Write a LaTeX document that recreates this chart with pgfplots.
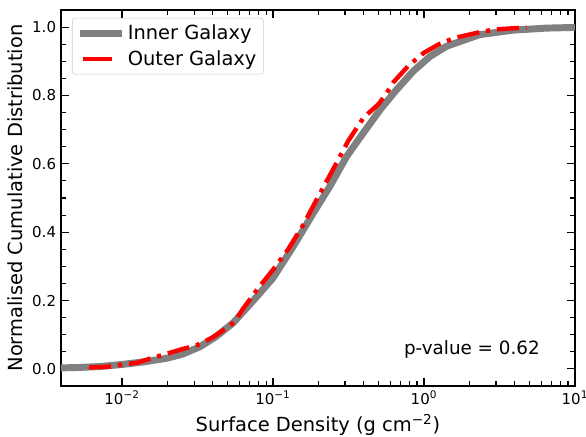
\documentclass[border=0pt]{standalone}
\usepackage{pgfplots}
\pgfplotsset{compat=1.18}
\usepackage{fontspec}
\setmainfont{DejaVu Sans}
\pgfplotsset{redleg/.style={legend image code/.code={\draw[##1, solid] (2pt,0pt) -- (23pt,0pt);}}}
\begin{document}
\begin{tikzpicture}
\useasboundingbox (-43.9pt,-36pt) rectangle (378pt,277.9pt);
\begin{axis}[
  scale only axis,
  width=370pt, height=270.7pt,
  xmode=log,
  xmin=0.00394, xmax=10,
  ymin=-0.05, ymax=1.05,
  xtick={0.01,0.1,1,10},
  xticklabels={10\textsuperscript{−2},10\textsuperscript{−1},10\textsuperscript{0},10\textsuperscript{1}},
  ytick={0,0.2,0.4,0.6,0.8,1.0},
  yticklabels={0.0,0.2,0.4,0.6,0.8,1.0},
  minor y tick num=3,
  tick align=inside,
  ticks=both,
  xtick pos=both, ytick pos=both,
  major tick length=6pt, minor tick length=3.8pt,
  every tick/.style={black, line width=0.8pt},
  axis line style={line width=1pt},
  tick label style={font=\fontsize{10.8}{13}\selectfont},
  label style={font=\fontsize{14}{16.8}\selectfont},
  xlabel={Surface Density (g cm\textsuperscript{−2})},
  ylabel={Normalised Cumulative Distribution},
  legend cell align=left,
  legend style={at={(0.0214,0.979)}, anchor=north west, draw=black!20, rounded corners=2pt, fill=white, font=\fontsize{14}{16.8}\selectfont, row sep=2pt, inner sep=3pt},
  legend image code/.code={\draw[#1] (0pt,0pt) -- (30pt,0pt);},
]
\addplot[color={rgb,255:red,128;green,128;blue,128}, line width=5pt, line join=round] coordinates {
(0.00316,0.002) (0.00398,0.003) (0.00501,0.004) (0.00715,0.007) (0.01,0.013)
(0.0141,0.021) (0.0197,0.031) (0.0251,0.043) (0.0329,0.065) (0.0417,0.094)
(0.0543,0.134) (0.0741,0.2) (0.1,0.266) (0.136,0.358) (0.185,0.456)
(0.238,0.534) (0.308,0.622) (0.396,0.69) (0.512,0.758) (0.659,0.817)
(0.849,0.871) (1.096,0.914) (1.413,0.944) (2.344,0.978) (3.89,0.991)
(6.46,0.997) (10,0.999)
};
\addlegendentry{Inner Galaxy}
\addplot[color=red, line width=3.2pt, dash pattern=on 16pt off 5pt on 3pt off 5pt, redleg] coordinates {
(0.00603,0.004) (0.00794,0.006) (0.01,0.012) (0.0126,0.018) (0.0158,0.032)
(0.02,0.045) (0.0251,0.058) (0.0316,0.07) (0.0398,0.092) (0.0501,0.122)
(0.0562,0.14) (0.0631,0.175) (0.0794,0.235) (0.1,0.29) (0.126,0.35)
(0.158,0.42) (0.2,0.505) (0.251,0.585) (0.316,0.668) (0.398,0.735)
(0.501,0.775) (0.562,0.805) (0.631,0.84) (0.794,0.888) (1.0,0.925)
(1.259,0.95) (1.585,0.968) (1.995,0.978) (2.512,0.988) (3.162,0.994)
(4.786,0.999)
};
\addlegendentry{Outer Galaxy}
\node[anchor=base west, font=\fontsize{13.2}{15.8}\selectfont, inner sep=0pt] at (rel axis cs:0.667,0.085) {p-value = 0.62};
\end{axis}
\end{tikzpicture}
\end{document}
